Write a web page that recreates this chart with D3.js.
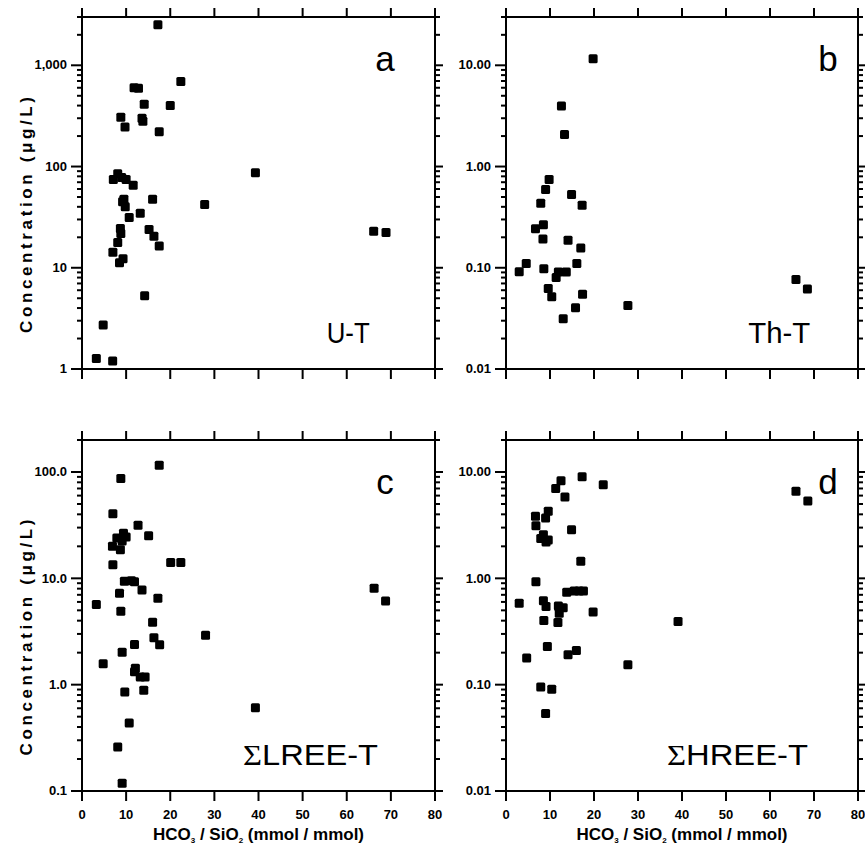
<!DOCTYPE html>
<html>
<head>
<meta charset="utf-8">
<script src="https://cdn.jsdelivr.net/npm/d3@7"></script>
<style>
  body { margin: 0; background: #fff; }
  svg { display: block; font-family: "Liberation Sans", Arial, sans-serif; }
  .axis text { font-family: "Liberation Sans", Arial, sans-serif; font-size: 13px; font-weight: bold; fill: #000; }
</style>
</head>
<body>
<script>
// HCO3/SiO2 ratio (x) and concentration (y)
const xTicks = [0, 10, 20, 30, 40, 50, 60, 70, 80];

const uX = [17.2, 22.4, 11.8, 12.8, 14.1, 20.0, 8.8, 13.6, 13.8, 9.75, 17.5, 39.3, 8.1, 7.1, 9.0, 10.0, 11.6, 16.0, 9.5, 9.2,
  9.8, 27.8, 10.7, 13.2, 8.7, 15.2, 8.8, 16.3, 8.1, 17.5, 66.1, 68.9, 7.0, 9.3, 8.5, 14.2, 4.8, 3.25, 6.95];
const uVal = [2520, 690, 600, 595, 412, 400, 307, 300, 280, 246, 220, 86.6, 85, 74.4, 78, 74.4, 65.4, 47.6, 47.6, 44.8,
  40, 42.2, 31.4, 34.6, 24.4, 23.9, 21.8, 20.5, 17.8, 16.4, 23.0, 22.3, 14.2, 12.3, 11.2, 5.3, 2.72, 1.27, 1.2];

const thX = [19.8, 12.6, 13.3, 9.8, 9.0, 14.9, 7.9, 17.3, 8.5, 6.7, 8.4, 14.1, 17.0, 16.1, 4.6, 3.0, 8.6, 11.9, 13.7, 11.4,
  9.6, 10.4, 17.4, 15.8, 13.0, 27.7, 65.9, 68.5];
const thVal = [11.6, 3.97, 2.07, 0.745, 0.593, 0.53, 0.434, 0.415, 0.266, 0.243, 0.192, 0.187, 0.157, 0.110, 0.110, 0.0913, 0.098, 0.091, 0.091, 0.080,
  0.0625, 0.0518, 0.0546, 0.0402, 0.0314, 0.0425, 0.0767, 0.0616];

const lreeX = [17.5, 8.8, 7.0, 12.7, 15.1, 7.9, 9.4, 10.0, 9.1, 6.9, 8.7, 20.1, 22.4, 7.0, 9.6, 11.2, 11.9, 13.6, 8.5, 66.2,
  68.8, 17.2, 3.25, 8.8, 16.0, 28.0, 16.3, 11.9, 17.6, 9.1, 4.8, 12.1, 11.9, 13.2, 14.3, 14.0, 9.7, 39.3, 10.7, 8.1, 9.1];
const lreeVal = [116, 87, 40.6, 31.6, 25.1, 24, 26.5, 24.5, 22.5, 20, 18.6, 14.1, 14.1, 13.4, 9.4, 9.5, 9.3, 7.78, 7.23, 8.06,
  6.13, 6.5, 5.66, 4.91, 3.87, 2.92, 2.76, 2.39, 2.38, 2.02, 1.57, 1.43, 1.32, 1.18, 1.18, 0.885, 0.853, 0.608, 0.437, 0.26, 0.118];

const hreeX = [17.3, 12.5, 22.1, 11.3, 65.9, 68.6, 13.4, 9.6, 6.7, 9.0, 6.8, 14.9, 8.5, 7.9, 9.6, 9.1, 17.0, 6.8, 13.8, 15.5,
  16.6, 17.6, 3.0, 8.5, 9.1, 11.9, 13.0, 12.1, 19.8, 8.6, 11.8, 39.1, 9.4, 4.7, 16.0, 14.1, 27.7, 7.9, 10.4, 9.0];
const hreeVal = [9.04, 8.29, 7.6, 6.98, 6.59, 5.35, 5.83, 4.28, 3.84, 3.7, 3.12, 2.86, 2.57, 2.37, 2.29, 2.2, 1.45, 0.93, 0.739, 0.76,
  0.76, 0.76, 0.583, 0.617, 0.542, 0.55, 0.53, 0.47, 0.483, 0.401, 0.384, 0.392, 0.229, 0.178, 0.21, 0.191, 0.154, 0.095, 0.0904, 0.0535];

const svg = d3.select("body").append("svg")
  .attr("width", 865)
  .attr("height", 847);

const panels = [
  { xs: uX, ys: uVal, yDomain: [1, 3000], fmt: d3.format(","), letter: "a", sigma: false, name: "U-T",
    left: 82, right: 435, top: 17, bottom: 369, letterX: 385, nameX: 326.7, nameLen: 43, xLabels: false, yTitle: true },
  { xs: thX, ys: thVal, yDomain: [0.01, 30], fmt: d3.format(".2f"), letter: "b", sigma: false, name: "Th-T",
    left: 506, right: 858, top: 17, bottom: 369, letterX: 828, nameX: 748.3, nameLen: 62, xLabels: false, yTitle: false },
  { xs: lreeX, ys: lreeVal, yDomain: [0.1, 200], fmt: d3.format(".1f"), letter: "c", sigma: true, name: "LREE-T",
    left: 82, right: 435, top: 440, bottom: 791, letterX: 385, nameX: 243, nameLen: 135, xLabels: true, yTitle: true },
  { xs: hreeX, ys: hreeVal, yDomain: [0.01, 20], fmt: d3.format(".2f"), letter: "d", sigma: true, name: "HREE-T",
    left: 506, right: 858, top: 440, bottom: 791, letterX: 828, nameX: 667, nameLen: 141, xLabels: true, yTitle: false }
];

function styleAxis(g) {
  g.selectAll("path, line").attr("stroke", "#000").attr("stroke-width", 2);
}

function drawPanel(selection, p) {
  const g = selection.append("g").attr("class", "panel");
  const x = d3.scaleLinear().domain([0, 80]).range([p.left, p.right]);
  const y = d3.scaleLog().domain(p.yDomain).range([p.bottom, p.top]);

  const all = y.ticks();
  const isMajor = d => Math.abs(Math.log10(d) - Math.round(Math.log10(d))) < 1e-6;
  const major = all.filter(isMajor);
  const minor = all.filter(d => !isMajor(d));

  // left
  g.append("g").attr("class", "axis").attr("transform", `translate(${p.left},0)`)
    .call(d3.axisLeft(y).offset(0).tickValues(minor).tickSize(5).tickSizeOuter(0).tickFormat(""))
    .call(styleAxis);
  g.append("g").attr("class", "axis").attr("transform", `translate(${p.left},0)`)
    .call(d3.axisLeft(y).offset(0).tickValues(major).tickSize(11).tickSizeOuter(0).tickPadding(4).tickFormat(p.fmt))
    .call(styleAxis);
  // right
  g.append("g").attr("class", "axis").attr("transform", `translate(${p.right},0)`)
    .call(d3.axisRight(y).offset(0).tickValues(minor).tickSize(5).tickSizeOuter(0).tickFormat(""))
    .call(styleAxis);
  g.append("g").attr("class", "axis").attr("transform", `translate(${p.right},0)`)
    .call(d3.axisRight(y).offset(0).tickValues(major).tickSize(8).tickSizeOuter(0).tickFormat(""))
    .call(styleAxis);
  // top / bottom
  g.append("g").attr("class", "axis").attr("transform", `translate(0,${p.top})`)
    .call(d3.axisTop(x).offset(0).tickValues(xTicks).tickSize(9).tickSizeOuter(0).tickFormat(""))
    .call(styleAxis);
  g.append("g").attr("class", "axis").attr("transform", `translate(0,${p.bottom})`)
    .call(d3.axisBottom(x).offset(0).tickValues(xTicks).tickSize(10).tickSizeOuter(0).tickPadding(9)
      .tickFormat(p.xLabels ? d3.format("d") : ""))
    .call(styleAxis);

  g.append("g").selectAll("rect")
    .data(p.xs.map((v, i) => [v, p.ys[i]]))
    .enter()
    .append("rect")
    .attr("x", d => x(d[0]) - 4.5)
    .attr("y", d => y(d[1]) - 4.5)
    .attr("width", 9)
    .attr("height", 9)
    .attr("rx", 1.5)
    .attr("fill", "#000");

  g.append("text")
    .attr("x", p.letterX)
    .attr("y", p.top + 53.5)
    .attr("text-anchor", "middle")
    .style("font-size", "35px")
    .text(p.letter);

  const name = g.append("text")
    .attr("x", p.nameX)
    .attr("y", p.bottom - 26.5)
    .attr("textLength", p.nameLen)
    .attr("lengthAdjust", "spacingAndGlyphs")
    .style("font-size", "30px");
  if (p.sigma) {
    name.append("tspan").style("font-family", "'Liberation Serif', 'Times New Roman', serif").text("\u03a3");
  }
  name.append("tspan").text(p.name);

  if (p.yTitle) {
    g.append("text")
      .attr("transform", `translate(32,${(p.top + p.bottom) / 2 + 22}) rotate(-90)`)
      .attr("text-anchor", "middle")
      .attr("textLength", 236)
      .attr("lengthAdjust", "spacing")
      .style("font-size", "17px")
      .style("font-weight", "bold")
      .text("Concentration (\u03bcg/L)");
  }

  if (p.xLabels) {
    const t = g.append("text")
      .attr("x", (p.left + p.right) / 2)
      .attr("y", p.bottom + 49)
      .attr("text-anchor", "middle")
      .style("font-size", "17px")
      .style("font-weight", "bold");
    t.append("tspan").text("HCO");
    t.append("tspan").attr("dy", 3).style("font-size", "8px").text("3");
    t.append("tspan").attr("dy", -3).text(" / SiO");
    t.append("tspan").attr("dy", 3).style("font-size", "8px").text("2");
    t.append("tspan").attr("dy", -3).text(" (mmol / mmol)");
  }
}

panels.forEach(p => drawPanel(svg, p));
</script>
</body>
</html>
